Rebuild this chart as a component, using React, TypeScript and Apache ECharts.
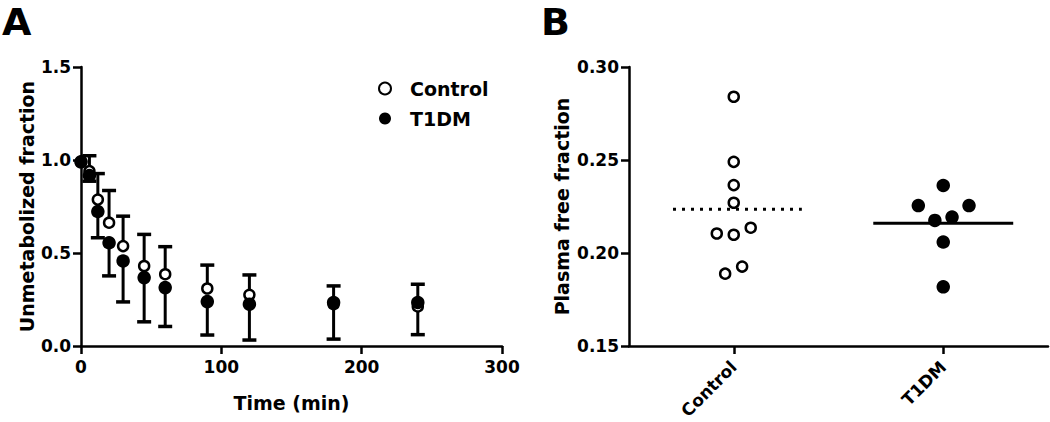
import React, { useEffect, useRef } from "react";
import * as echarts from "echarts";

// Panel A: unmetabolized fraction over time
const timePoints = [0, 6, 12, 20, 30, 45, 60, 90, 120, 180, 240];
const controlMean = [0.99, 0.94, 0.787, 0.663, 0.537, 0.43, 0.386, 0.309, 0.275, 0.225, 0.213];
const controlSD = [0, 0.083, 0.14, 0.173, 0.161, 0.17, 0.148, 0.126, 0.107, 0.098, 0.119];
const t1dmMean = [0.99, 0.916, 0.723, 0.555, 0.457, 0.368, 0.314, 0.239, 0.225, 0.234, 0.234];
const t1dmSD = [0, 0.03, 0.141, 0.178, 0.22, 0.238, 0.209, 0.18, 0.193, 0.197, 0.173];

// Panel B: plasma free fraction
const groups = ["Control", "T1DM"];
const controlFree = [0.284, 0.249, 0.2365, 0.227, 0.2105, 0.2098, 0.2136, 0.1889, 0.1927];
const controlJitter = [0, 0, 0, 0, -0.081, 0, 0.081, -0.041, 0.04];
const t1dmFree = [0.2363, 0.2255, 0.2255, 0.2175, 0.2193, 0.2059, 0.1818];
const t1dmJitter = [0, -0.119, 0.123, -0.04, 0.042, 0, 0];

const FONT = "DejaVu Sans";
const mean = (a: number[]) => a.reduce((s, v) => s + v, 0) / a.length;

const errorBar = (params: any, api: any) => {
  const x = api.value(0);
  const y0 = api.value(1);
  const y1 = api.value(2);
  if (y0 === y1) return null;
  const p0 = api.coord([x, y0]);
  const p1 = api.coord([x, y1]);
  const half = 7;
  return {
    type: "group",
    children: [
      { type: "line", shape: { x1: p0[0], y1: p0[1], x2: p1[0], y2: p1[1] }, style: { stroke: "#000", lineWidth: 3 } },
      { type: "line", shape: { x1: p1[0] - half, y1: p1[1], x2: p1[0] + half, y2: p1[1] }, style: { stroke: "#000", lineWidth: 3.5 } },
    ],
  };
};

const axisLineStyle = { color: "#000", width: 2.5 };
const labelStyle = { fontFamily: FONT, fontWeight: "bold" as const, fontSize: 17, color: "#000" };
const nameStyle = { fontFamily: FONT, fontWeight: "bold" as const, fontSize: 19, color: "#000" };

export default function App() {
  const ref = useRef<HTMLDivElement>(null);
  useEffect(() => {
    if (!ref.current) return;
    const chart = echarts.init(ref.current, null, { renderer: "svg" });
    const cMean = mean(controlFree);
    const tMean = mean(t1dmFree);
    chart.setOption({
      animation: false,
      backgroundColor: "#fff",
      grid: [
        { left: 81, top: 67, width: 421, height: 279 },
        { left: 629, top: 67, width: 419, height: 279 },
      ],
      legend: {
        data: ["Control", "T1DM"],
        orient: "vertical",
        left: 373,
        top: 74,
        itemWidth: 40,
        itemHeight: 12,
        itemGap: 11,
        icon: "circle",
        textStyle: { ...nameStyle, fontSize: 19 },
      },
      xAxis: [
        {
          type: "value", gridIndex: 0, min: 0, max: 300, interval: 100,
          axisLine: { show: true, onZero: false, lineStyle: axisLineStyle },
          axisTick: { show: true, length: 8, lineStyle: axisLineStyle },
          axisLabel: { ...labelStyle, margin: 12 },
          splitLine: { show: false },
          name: "Time (min)", nameLocation: "middle", nameGap: 47, nameTextStyle: nameStyle,
        },
        {
          type: "category", gridIndex: 1, data: groups, boundaryGap: true,
          axisLine: { show: true, onZero: false, lineStyle: axisLineStyle },
          axisTick: { show: true, alignWithLabel: true, length: 8, lineStyle: axisLineStyle },
          axisLabel: { ...labelStyle, rotate: 45, margin: 18 },
          splitLine: { show: false },
        },
        { type: "value", gridIndex: 1, min: 0, max: 2, show: false },
      ],
      yAxis: [
        {
          type: "value", gridIndex: 0, min: 0, max: 1.5, interval: 0.5,
          axisLine: { show: true, onZero: false, lineStyle: axisLineStyle },
          axisTick: { show: true, length: 8, lineStyle: axisLineStyle },
          axisLabel: { ...labelStyle, margin: 10, formatter: (v: number) => v.toFixed(1) },
          splitLine: { show: false },
          name: "Unmetabolized fraction", nameLocation: "middle", nameGap: 45, nameTextStyle: nameStyle,
        },
        {
          type: "value", gridIndex: 1, min: 0.15, max: 0.3, interval: 0.05,
          axisLine: { show: true, onZero: false, lineStyle: axisLineStyle },
          axisTick: { show: true, length: 8, lineStyle: axisLineStyle },
          axisLabel: { ...labelStyle, margin: 10, formatter: (v: number) => v.toFixed(2) },
          splitLine: { show: false },
          name: "Plasma free fraction", nameLocation: "middle", nameGap: 58, nameTextStyle: nameStyle,
        },
      ],
      series: [
        {
          type: "custom", name: "Control SD", xAxisIndex: 0, yAxisIndex: 0, z: 1,
          renderItem: errorBar, encode: { x: 0, y: [1, 2] },
          data: timePoints.map((t, i) => [t, controlMean[i], controlMean[i] + controlSD[i]]),
        },
        {
          type: "custom", name: "T1DM SD", xAxisIndex: 0, yAxisIndex: 0, z: 1,
          renderItem: errorBar, encode: { x: 0, y: [1, 2] },
          data: timePoints.map((t, i) => [t, t1dmMean[i], t1dmMean[i] - t1dmSD[i]]),
        },
        {
          type: "scatter", name: "Control", xAxisIndex: 0, yAxisIndex: 0, z: 2,
          symbol: "circle", symbolSize: 10,
          itemStyle: { color: "#fff", borderColor: "#000", borderWidth: 2.5, opacity: 1 },
          data: timePoints.map((t, i) => [t, controlMean[i]]),
        },
        {
          type: "scatter", name: "T1DM", xAxisIndex: 0, yAxisIndex: 0, z: 3,
          symbol: "circle", symbolSize: 13.5,
          itemStyle: { color: "#000", opacity: 1 },
          data: timePoints.map((t, i) => [t, t1dmMean[i]]),
        },
        {
          type: "scatter", name: "Control free fraction", xAxisIndex: 2, yAxisIndex: 1, z: 3,
          symbol: "circle", symbolSize: 10,
          itemStyle: { color: "#fff", borderColor: "#000", borderWidth: 2.5, opacity: 1 },
          data: controlFree.map((v, i) => [0.5 + controlJitter[i], v]),
        },
        {
          type: "scatter", name: "T1DM free fraction", xAxisIndex: 2, yAxisIndex: 1, z: 3,
          symbol: "circle", symbolSize: 13.5,
          itemStyle: { color: "#000", opacity: 1 },
          data: t1dmFree.map((v, i) => [1.5 + t1dmJitter[i], v]),
        },
        {
          type: "line", name: "Control mean", xAxisIndex: 2, yAxisIndex: 1, z: 2,
          symbol: "none", silent: true,
          lineStyle: { color: "#000", width: 3, type: [3, 6] },
          data: [[0.5 - 0.29, cMean], [0.5 + 0.325, cMean]],
        },
        {
          type: "line", name: "T1DM mean", xAxisIndex: 2, yAxisIndex: 1, z: 2,
          symbol: "none", silent: true,
          lineStyle: { color: "#000", width: 3 },
          data: [[1.5 - 0.334, tMean], [1.5 + 0.334, tMean]],
        },
      ],
      graphic: [
        { type: "text", left: 2, top: 3, style: { text: "A", fontFamily: FONT, fontWeight: "bold", fontSize: 38, fill: "#000" } },
        { type: "text", left: 541, top: 3, style: { text: "B", fontFamily: FONT, fontWeight: "bold", fontSize: 38, fill: "#000" } },
      ],
    });
    return () => chart.dispose();
  }, []);
  return (
    <div
      ref={ref}
      style={{ position: "absolute", left: 0, top: 0, width: 1050, height: 422, background: "#fff" }}
    />
  );
}
